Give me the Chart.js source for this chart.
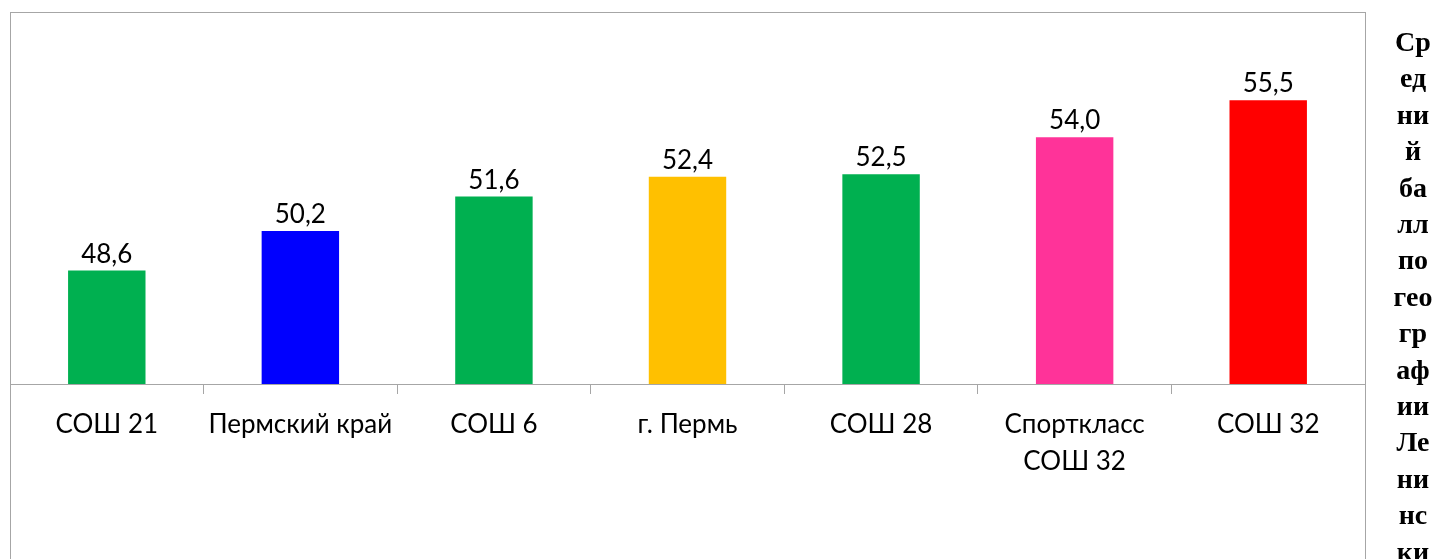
<!DOCTYPE html>
<html lang="ru">
<head>
<meta charset="utf-8">
<script src="https://cdn.jsdelivr.net/npm/chart.js@4/dist/chart.umd.min.js"></script>
<style>
  html, body { margin: 0; padding: 0; background: #fff; overflow: hidden; }
  body { width: 1438px; height: 559px; position: relative; }
  #frame {
    position: absolute; left: 10px; top: 12px; width: 1356px; height: 600px;
    border: 1px solid #a6a6a6; box-sizing: border-box;
  }
  #chart { position: absolute; left: 0; top: 0; }
  #side {
    position: absolute; left: 1381px; top: 24px; width: 64px;
    font-family: "Liberation Serif", "Times New Roman", serif;
    font-weight: bold; font-size: 28px; line-height: 36.4px;
    text-align: center; color: #000;
  }
</style>
</head>
<body>
<div id="frame"></div>
<canvas id="chart" width="1438" height="559"></canvas>
<div id="side">Ср<br>ед<br>ни<br>й<br>ба<br>лл<br>по<br>гео<br>гр<br>аф<br>ии<br>Ле<br>ни<br>нс<br>ки</div>
<script>
const categories = ['СОШ 21', 'Пермский край', 'СОШ 6', 'г. Пермь', 'СОШ 28', ['Спорткласс', 'СОШ 32'], 'СОШ 32'];
const scores = [48.6, 50.2, 51.6, 52.4, 52.5, 54.0, 55.5];
const barColors = ['#00B050', '#0000FF', '#00B050', '#FFC000', '#00B050', '#FF3399', '#FF0000'];

const labelFont = '26px Lato, "Open Sans", sans-serif';

const valueLabels = {
  id: 'valueLabels',
  afterDatasetsDraw(chart) {
    const ctx = chart.ctx;
    const meta = chart.getDatasetMeta(0);
    ctx.save();
    ctx.font = labelFont;
    ctx.fillStyle = '#000';
    ctx.textAlign = 'center';
    ctx.textBaseline = 'alphabetic';
    meta.data.forEach((bar, i) => {
      ctx.fillText(scores[i].toFixed(1).replace('.', ','), bar.x, bar.y - 8);
    });
    ctx.restore();
  }
};

new Chart(document.getElementById('chart'), {
  type: 'bar',
  data: {
    labels: categories,
    datasets: [{
      data: scores,
      backgroundColor: barColors,
      borderWidth: 0,
      barPercentage: 0.4,
      categoryPercentage: 1.0,
    }],
  },
  options: {
    responsive: false,
    animation: false,
    devicePixelRatio: 1,
    layout: { padding: { left: 10, right: 73, top: 88, bottom: 0 } },
    plugins: {
      legend: { display: false },
      tooltip: { enabled: false },
    },
    scales: {
      y: { display: false, min: 44, max: 56 },
      x: {
        afterFit(scale) { scale.height = 175; },
        border: { display: true, color: '#a6a6a6', width: 1 },
        grid: {
          display: true,
          offset: true,
          drawOnChartArea: false,
          drawTicks: true,
          tickLength: 10,
          color: '#a6a6a6',
        },
        ticks: {
          color: '#000',
          font: { family: 'Lato, "Open Sans", sans-serif', size: 26, lineHeight: 1.42 },
          padding: 12,
          maxRotation: 0,
          autoSkip: false,
        },
      },
    },
  },
  plugins: [valueLabels],
});
</script>
</body>
</html>
